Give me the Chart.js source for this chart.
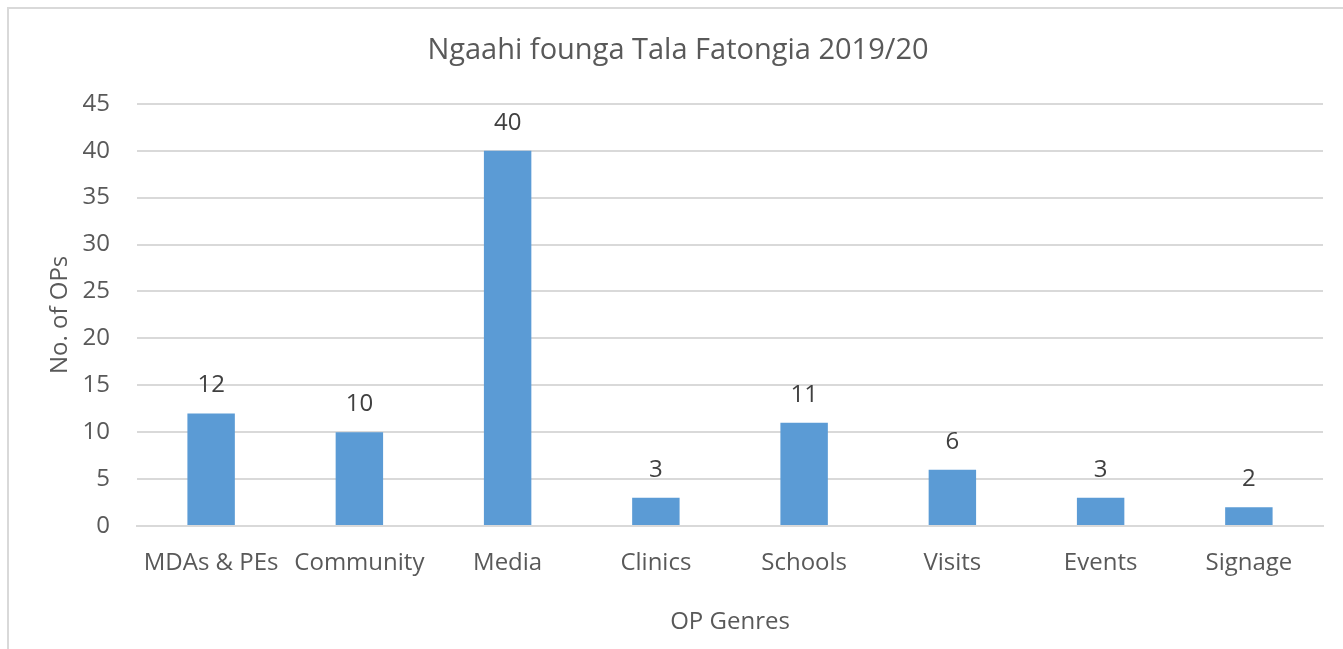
<!DOCTYPE html>
<html>
<head>
<meta charset="utf-8">
<script src="https://cdn.jsdelivr.net/npm/chart.js@4.4.0/dist/chart.umd.min.js"></script>
<style>
  html, body { margin: 0; padding: 0; background: #fff; }
  #wrap { position: relative; width: 1343px; height: 649px; }
</style>
</head>
<body>
<div id="wrap"><canvas id="c" width="1343" height="649"></canvas></div>
<script>
const categories = ["MDAs & PEs", "Community", "Media", "Clinics", "Schools", "Visits", "Events", "Signage"];
const values = [12, 10, 40, 3, 11, 6, 3, 2];
const yTicks = [0, 5, 10, 15, 20, 25, 30, 35, 40, 45];
const chartTitle = "Ngaahi founga Tala Fatongia 2019/20";
const xTitle = "OP Genres";
const yTitle = "No. of OPs";

const FONT = "'Open Sans', 'Noto Sans', sans-serif";

const borderPlugin = {
  id: 'borderPlugin',
  beforeDraw(chart) {
    const ctx = chart.ctx;
    ctx.save();
    ctx.fillStyle = '#fff';
    ctx.fillRect(0, 0, chart.width, chart.height);
    ctx.strokeStyle = '#D9D9D9';
    ctx.lineWidth = 2;
    ctx.beginPath();
    ctx.moveTo(8, chart.height + 5);
    ctx.lineTo(8, 8);
    ctx.lineTo(chart.width + 5, 8);
    ctx.stroke();
    ctx.restore();
  }
};

const labelPlugin = {
  id: 'labelPlugin',
  afterDatasetsDraw(chart) {
    const ctx = chart.ctx;
    const meta = chart.getDatasetMeta(0);
    ctx.save();
    ctx.fillStyle = '#404040';
    ctx.font = "24px " + FONT;
    ctx.textAlign = 'center';
    ctx.textBaseline = 'middle';
    meta.data.forEach((bar, i) => {
      ctx.fillText(String(values[i]), bar.x, bar.y - 28);
    });
    ctx.restore();
  }
};

new Chart(document.getElementById('c'), {
  type: 'bar',
  data: {
    labels: categories,
    datasets: [{
      data: values,
      backgroundColor: '#5B9BD5',
      borderWidth: 0,
      categoryPercentage: 1.0,
      barPercentage: 0.32
    }]
  },
  plugins: [borderPlugin, labelPlugin],
  options: {
    responsive: false,
    animation: false,
    devicePixelRatio: 1,
    layout: { padding: { left: 33, right: 20, top: 0, bottom: 0 } },
    plugins: {
      legend: { display: false },
      tooltip: { enabled: false },
      title: {
        display: true,
        text: chartTitle,
        color: '#595959',
        font: { family: FONT, size: 29, weight: 'normal' },
        padding: { top: 33, bottom: 36 }
      }
    },
    scales: {
      x: {
        grid: { display: false, drawTicks: false },
        border: { display: true, color: '#D9D9D9', width: 2 },
        ticks: { color: '#595959', font: { family: FONT, size: 24 }, padding: 23, maxRotation: 0, autoSkip: false },
        title: { display: true, text: xTitle, color: '#595959', font: { family: FONT, size: 24 }, padding: { top: 20, bottom: 12 } },
        afterFit(scale) { scale.height = 123; }
      },
      y: {
        min: 0, max: 45,
        afterBuildTicks(scale) { scale.ticks = yTicks.map(v => ({ value: v })); },
        grid: { color: '#D9D9D9', lineWidth: 2, drawTicks: false },
        border: { display: false },
        ticks: { color: '#595959', font: { family: FONT, size: 24 }, padding: 27 },
        title: { display: true, text: yTitle, color: '#595959', font: { family: FONT, size: 24 }, padding: { top: 13, bottom: 0 } },
        afterFit(scale) { scale.width = 104; }
      }
    }
  }
});
</script>
</body>
</html>
